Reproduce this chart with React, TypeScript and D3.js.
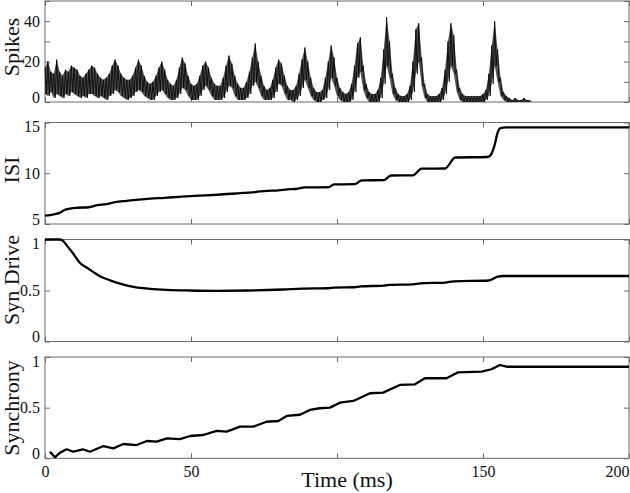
import React, { useEffect, useRef } from "react";
import * as d3 from "d3";

// spike count envelope, one sample per ms (0..166 ms): upper and lower edge of the trace
const spikeHi = [
  17, 20, 15, 14, 21, 15, 13, 16, 15, 18,
  17, 16, 13, 12, 14, 16, 18, 17, 14, 12,
  11, 12, 14, 18, 21, 18, 14, 12, 11, 11,
  13, 17, 21, 18, 13, 10, 9, 10, 13, 17,
  20, 16, 11, 9, 8, 11, 17, 22, 19, 13,
  9, 8, 9, 13, 18, 20, 17, 12, 9, 8,
  8, 12, 18, 23, 19, 13, 9, 7, 7, 10,
  15, 22, 29, 20, 13, 8, 6, 7, 11, 17,
  21, 19, 13, 8, 6, 6, 8, 14, 21, 27,
  20, 12, 7, 5, 5, 6, 12, 20, 28, 22,
  12, 7, 5, 4, 5, 9, 18, 29, 32, 18,
  9, 5, 4, 4, 6, 12, 26, 42, 30, 14,
  7, 4, 3, 3, 4, 8, 20, 36, 39, 22,
  9, 4, 3, 3, 3, 4, 7, 16, 30, 39,
  33, 16, 7, 4, 3, 3, 3, 3, 3, 3,
  4, 6, 14, 28, 40, 26, 12, 5, 3, 2,
  1, 2, 1, 1, 2, 1, 1,
];
const spikeLo = [
  4, 3, 5, 2, 4, 3, 2, 4, 3, 5,
  4, 3, 2, 3, 2, 4, 4, 3, 2, 3,
  2, 1, 3, 4, 6, 5, 3, 2, 1, 2,
  3, 5, 6, 5, 3, 2, 1, 1, 3, 5,
  6, 4, 2, 1, 1, 2, 4, 7, 6, 3,
  1, 1, 1, 3, 6, 8, 6, 3, 1, 1,
  1, 2, 5, 8, 7, 3, 1, 1, 1, 2,
  4, 8, 10, 7, 3, 1, 1, 1, 2, 5,
  9, 8, 4, 1, 1, 0, 1, 3, 7, 11,
  7, 3, 1, 0, 0, 1, 2, 6, 12, 8,
  3, 1, 0, 0, 0, 1, 5, 12, 15, 6,
  2, 0, 0, 0, 0, 2, 9, 18, 12, 4,
  1, 0, 0, 0, 0, 1, 5, 14, 20, 8,
  2, 0, 0, 0, 0, 0, 1, 4, 10, 18,
  14, 5, 1, 0, 0, 0, 0, 0, 0, 0,
  0, 1, 3, 9, 18, 10, 3, 1, 0, 0,
  0, 0, 0, 0, 0, 0, 0,
];

const isiT = [0, 3, 5, 7, 11, 15, 18, 21, 24, 28, 32, 36, 41, 46, 50, 55, 59, 64, 68, 72,
  76, 80, 83, 86, 89, 97, 99, 106, 108.5, 116, 118.5, 126, 129, 137, 140.5, 151.5, 152.5, 154, 155, 156, 158, 200];
const isiV = [5.82, 5.95, 6.1, 6.42, 6.6, 6.65, 6.85, 6.95, 7.15, 7.28, 7.4, 7.5, 7.58, 7.68, 7.75, 7.82, 7.88, 7.98, 8.07, 8.15,
  8.27, 8.32, 8.42, 8.45, 8.6, 8.62, 8.9, 8.92, 9.3, 9.32, 9.78, 9.8, 10.45, 10.47, 11.55, 11.6, 11.75, 12.8, 14.0, 14.45, 14.52, 14.52];

const synT = [0, 5, 6, 7.5, 9.7, 12, 14.3, 16.6, 18.8, 22.3, 25.7, 30.3, 36, 41.7, 49.7, 58.8, 70, 81.6, 88, 97,
  99, 106, 108, 116, 118, 126, 128.5, 137, 140, 152, 155, 157, 200];
const synV = [1, 1, 0.99, 0.94, 0.86, 0.77, 0.725, 0.68, 0.64, 0.6, 0.568, 0.535, 0.516, 0.506, 0.5, 0.497, 0.5, 0.51, 0.518, 0.522,
  0.528, 0.532, 0.54, 0.548, 0.555, 0.56, 0.57, 0.578, 0.59, 0.598, 0.635, 0.642, 0.642];

const syncT = [1.7, 3.4, 5.1, 7.4, 9.7, 13, 15.4, 20, 23.4, 26.8, 31.4, 34.9, 38.3, 41.7, 46.2, 49.7, 54.2, 58.8, 62.2, 66.8,
  71.3, 75.9, 79.9, 82.8, 87.3, 90.7, 94.1, 97.6, 101, 105.6, 111.3, 115.8, 121.5, 126.7, 130.1, 137.5, 141.5, 149.5, 152.9, 155.8, 158.1, 200];
const syncV = [0.065, 0.01, 0.055, 0.089, 0.065, 0.089, 0.065, 0.121, 0.098, 0.141, 0.131, 0.171, 0.164, 0.197, 0.19, 0.22, 0.23, 0.27, 0.263, 0.312,
  0.312, 0.361, 0.368, 0.418, 0.43, 0.477, 0.494, 0.5, 0.549, 0.566, 0.642, 0.648, 0.724, 0.73, 0.79, 0.79, 0.849, 0.855, 0.879, 0.921, 0.904, 0.904];

const timeTicks = [0, 50, 100, 150, 200];
const timeLabels = [0, 50, 150, 200];

const FONT = "Liberation Serif, Times New Roman, serif";
const AXIS = "#6b6b6b";

const App = () => {
  const ref = useRef<SVGSVGElement>(null);

  useEffect(() => {
    const svg = d3.select(ref.current);
    svg.selectAll("*").remove();

    const x = d3.scaleLinear().domain([0, 200]).range([45, 629]);

    const panels = [
      { name: "Spikes", domain: [0, 50], ticks: [0, 10, 20, 30, 40, 50], labels: [0, 20, 40], top: 1, bottom: 102, labelY: 47 },
      { name: "ISI", domain: [5, 15], ticks: [5, 10, 15], labels: [5, 10, 15], top: 122.5, bottom: 224, labelY: 170 },
      { name: "Syn Drive", domain: [0, 1], ticks: [0, 0.5, 1], labels: [0, 0.5, 1], top: 239.5, bottom: 341.5, labelY: 280 },
      { name: "Synchrony", domain: [0, 1], ticks: [0, 0.5, 1], labels: [0, 0.5, 1], top: 357, bottom: 458.3, labelY: 408 },
    ];
    const ys = panels.map((p) => d3.scaleLinear().domain(p.domain).range([p.bottom, p.top]));

    svg.append("rect").attr("width", 630).attr("height", 493).attr("fill", "#fff");

    panels.forEach((p, i) => {
      const y = ys[i];
      const g = svg.append("g").attr("color", AXIS);

      // inward ticks on all four sides
      g.append("g").attr("transform", `translate(0,${p.bottom})`)
        .call(d3.axisBottom(x).tickValues(timeTicks).tickSize(-5).tickFormat(() => ""))
        .call((a) => a.select(".domain").remove());
      g.append("g").attr("transform", `translate(0,${p.top})`)
        .call(d3.axisTop(x).tickValues(timeTicks).tickSize(-5).tickFormat(() => ""))
        .call((a) => a.select(".domain").remove());
      g.append("g").attr("transform", "translate(629,0)")
        .call(d3.axisRight(y).tickValues(p.ticks).tickSize(-5).tickFormat(() => ""))
        .call((a) => a.select(".domain").remove());

      const left = g.append("g").attr("transform", "translate(45,0)")
        .call(d3.axisLeft(y).tickValues(p.ticks).tickSize(-5).tickPadding(5)
          .tickFormat((d) => (p.labels.includes(+d) ? d3.format("~g")(+d) : "")))
        .call((a) => a.select(".domain").remove());
      left.selectAll("text")
        .style("font-family", FONT).style("font-size", "16px").attr("fill", "#111")
        .attr("y", (d: any) => {
          const py = y(d);
          return Math.min(Math.max(py, p.top + 4), p.bottom - 5) - py;
        });

      g.append("rect").attr("x", 45).attr("y", p.top)
        .attr("width", 584).attr("height", p.bottom - p.top)
        .attr("fill", "none").attr("stroke", AXIS).attr("stroke-width", 1);

      svg.append("text")
        .attr("transform", `translate(19,${p.labelY}) rotate(-90)`)
        .attr("text-anchor", "middle")
        .style("font-family", FONT).style("font-size", "22px")
        .attr("fill", "#111").text(p.name);
    });

    // spikes: dark band between lower and upper edge, with a black zigzag for the noisy trace
    const idx = d3.range(spikeHi.length);
    svg.append("path").datum(idx)
      .attr("d", d3.area<number>().x((i) => x(i)).y0((i) => ys[0](spikeLo[i])).y1((i) => ys[0](spikeHi[i])))
      .attr("fill", "#000").attr("fill-opacity", 0.68);
    const zig: [number, number][] = [];
    spikeHi.forEach((h, i) => {
      zig.push([i, h]);
      zig.push([i + 0.5, spikeLo[i]]);
    });
    svg.append("path").datum(zig)
      .attr("d", d3.line<[number, number]>().x((d) => x(d[0])).y((d) => ys[0](d[1])))
      .attr("fill", "none").attr("stroke", "#000").attr("stroke-width", 0.8);

    const series = [
      { t: isiT, v: isiV, panel: 1, curve: d3.curveMonotoneX },
      { t: synT, v: synV, panel: 2, curve: d3.curveMonotoneX },
      { t: syncT, v: syncV, panel: 3, curve: d3.curveLinear },
    ];
    series.forEach((s) => {
      const pts = s.t.map((t, i) => [t, s.v[i]] as [number, number]);
      svg.append("path").datum(pts)
        .attr("d", d3.line<[number, number]>().curve(s.curve).x((d) => x(d[0])).y((d) => ys[s.panel](d[1])))
        .attr("fill", "none").attr("stroke", "#000").attr("stroke-width", 2.3)
        .attr("stroke-linejoin", "round");
    });

    // bottom time labels
    const xa = svg.append("g").attr("transform", `translate(0,${panels[3].bottom})`)
      .call(d3.axisBottom(x).tickValues(timeLabels).tickSize(0).tickPadding(7).tickFormat(d3.format("d")))
      .call((a) => a.select(".domain").remove());
    xa.selectAll("text")
      .style("font-family", FONT).style("font-size", "16px").attr("fill", "#111")
      .attr("text-anchor", (d: any) => (d === 200 ? "end" : "middle"));

    svg.append("text").attr("x", 347).attr("y", 487)
      .attr("text-anchor", "middle")
      .style("font-family", FONT).style("font-size", "22px")
      .attr("fill", "#111").text("Time (ms)");
  }, []);

  return (
    <svg ref={ref} width={630} height={493}
      style={{ position: "absolute", left: 0, top: 0, display: "block" }} />
  );
};

export default App;
